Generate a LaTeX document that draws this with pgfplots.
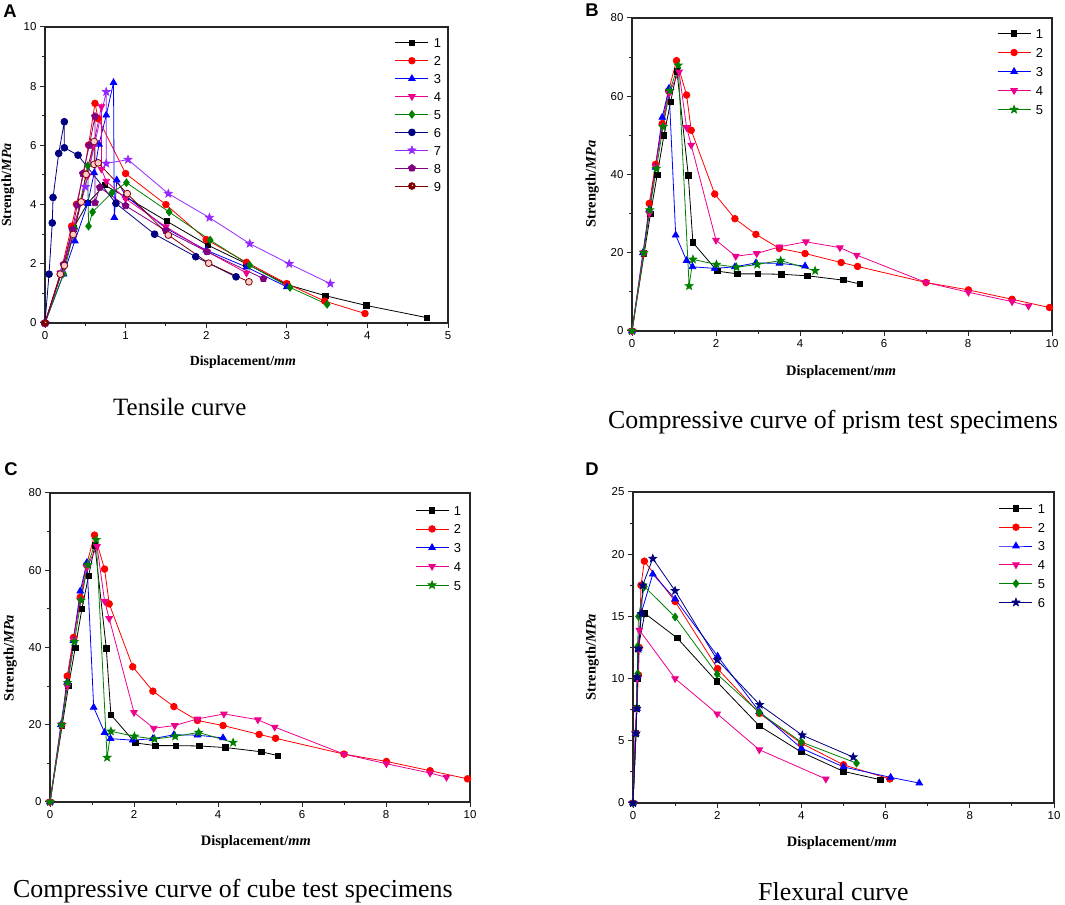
\documentclass[border=0pt]{standalone}
\usepackage{fontspec}
\setmainfont{Liberation Serif}
\setsansfont{Liberation Sans}
\usepackage{pgfplots}
\usepackage{pgfplotstable}
\pgfplotsset{compat=1.18}
\usetikzlibrary{plotmarks}

\definecolor{cgreen}{RGB}{0,128,0}
\definecolor{cnavy}{RGB}{0,0,128}
\definecolor{cviolet}{RGB}{150,40,255}
\definecolor{cpurple}{RGB}{128,0,128}
\definecolor{cdarkred}{RGB}{128,0,0}

\pgfdeclareplotmark{fstar}{%
 \pgfpathmoveto{\pgfpointpolar{90}{1.3*\pgfplotmarksize}}%
 \pgfpathlineto{\pgfpointpolar{126}{0.55*\pgfplotmarksize}}%
 \pgfpathlineto{\pgfpointpolar{162}{1.3*\pgfplotmarksize}}%
 \pgfpathlineto{\pgfpointpolar{198}{0.55*\pgfplotmarksize}}%
 \pgfpathlineto{\pgfpointpolar{234}{1.3*\pgfplotmarksize}}%
 \pgfpathlineto{\pgfpointpolar{270}{0.55*\pgfplotmarksize}}%
 \pgfpathlineto{\pgfpointpolar{306}{1.3*\pgfplotmarksize}}%
 \pgfpathlineto{\pgfpointpolar{342}{0.55*\pgfplotmarksize}}%
 \pgfpathlineto{\pgfpointpolar{18}{1.3*\pgfplotmarksize}}%
 \pgfpathlineto{\pgfpointpolar{54}{0.55*\pgfplotmarksize}}%
 \pgfpathclose\pgfusepathqfillstroke}

\pgfdeclareplotmark{ball}{%
 \pgfpathcircle{\pgfpointorigin}{\pgfplotmarksize}%
 \pgfusepathqfillstroke
 \pgfsetfillcolor{white!80!red}%
 \pgfpathcircle{\pgfpoint{0.2*\pgfplotmarksize}{0.2*\pgfplotmarksize}}{0.22*\pgfplotmarksize}%
 \pgfusepathqfill}

\pgfplotsset{
 panel/.style={
  scale only axis, clip=false, anchor=south west,
  axis line style={line width=1.1bp, black!85},
  tick align=outside, tick pos=left,
  major tick length=5bp, minor tick length=3bp,
  every tick/.style={line width=1bp, black!85},
  minor x tick num=1, minor y tick num=1,
  tick label style={font=\sffamily\fontsize{11.5}{12}\selectfont},
  /pgf/number format/assume math mode=true,
  label style={font=\bfseries\fontsize{14.5}{16}\selectfont},
  xlabel={Displacement/\textit{mm}},
  ylabel={Strength/\textit{MPa}},
  every axis plot/.append style={line width=0.8bp},
  legend image code/.code={\draw[mark repeat=2,mark phase=2,##1] plot coordinates {(0bp,0bp)(16.5bp,0bp)(33bp,0bp)};},
  legend style={draw=none, fill=none, inner sep=0pt, column sep=5bp,
    font=\sffamily\fontsize{13}{13}\selectfont,
    nodes={inner sep=0pt, text height=10bp, text depth=0bp},
    cells={anchor=west}, anchor=north west},
 },
 s1/.style={black, mark=square*, mark size=2.7bp},
 s2/.style={red, mark=*, mark size=3.3bp},
 s3/.style={blue, mark=triangle*, mark size=3.8bp},
 s4/.style={magenta, mark=triangle*, mark options={rotate=180}, mark size=3.8bp},
 s5/.style={cgreen, mark=diamond*, mark size=3.8bp},
 s5s/.style={cgreen, mark=fstar, mark size=3.1bp},
 s6/.style={cnavy, mark=*, mark size=3.4bp},
 s6s/.style={cnavy, mark=fstar, mark size=3.1bp},
 s7/.style={cviolet, mark=fstar, mark size=3.1bp},
 s8/.style={cpurple, mark=pentagon*, mark size=3.6bp},
 s9/.style={cdarkred, mark=ball, mark size=3.4bp},
}

% ---------- Panel A: tensile ----------
\pgfplotstableread{
x y
0 0
0.2 1.65
0.35 3.2
0.53 4.05
0.74 4.66
1.0 4.26
1.51 3.44
2.02 2.63
2.5 2.0
3.0 1.3
3.48 0.92
3.99 0.59
4.74 0.18
}\Aone
\pgfplotstableread{
x y
0 0
0.19 1.65
0.33 3.27
0.39 4.01
0.48 5.05
0.54 6.01
0.62 7.42
0.66 6.9
1.0 5.05
1.5 4.0
2.0 2.82
2.5 2.05
3.0 1.33
3.47 0.74
3.97 0.32
}\Atwo
\pgfplotstableread{
x y
0 0
0.23 1.65
0.37 2.77
0.53 4.04
0.61 5.07
0.67 6.04
0.76 7.02
0.85 8.12
0.86 3.56
0.89 4.83
1.0 4.3
1.5 3.2
2.0 2.46
2.5 1.89
3.0 1.22
}\Athree
\pgfplotstableread{
x y
0 0
0.2 1.7
0.34 3.16
0.45 4.1
0.53 4.98
0.6 6.0
0.70 7.31
0.70 5.2
0.76 4.79
1.0 4.2
1.5 3.25
2.0 2.43
2.5 1.69
}\Afour
\pgfplotstableread{
x y
0 0
0.23 1.67
0.37 3.19
0.53 5.31
0.54 3.27
0.59 3.75
0.83 4.4
1.01 4.74
1.54 3.75
2.05 2.8
2.54 1.95
3.04 1.2
3.5 0.63
}\Afive
\pgfplotstableread{
x y
0 0
0.05 1.65
0.09 3.38
0.1 4.24
0.17 5.73
0.24 6.8
0.24 5.92
0.41 5.67
0.88 4.04
1.36 3.0
1.87 2.24
2.37 1.56
}\Asix
\pgfplotstableread{
x y
0 0
0.2 1.7
0.35 3.1
0.5 4.6
0.62 6.1
0.76 7.81
0.76 5.39
1.03 5.52
1.53 4.37
2.04 3.56
2.54 2.68
3.03 2.0
3.54 1.33
}\Aseven
\pgfplotstableread{
x y
0 0
0.23 1.98
0.34 3.16
0.40 3.98
0.47 5.05
0.55 6.0
0.62 6.98
0.62 4.06
0.68 4.58
1.0 3.96
1.5 3.12
2.01 2.41
2.71 1.5
}\Aeight
\pgfplotstableread{
x y
0 0
0.19 1.65
0.24 1.94
0.35 2.99
0.45 4.09
0.51 5.02
0.61 6.13
0.61 5.36
0.66 5.41
1.02 4.37
1.53 2.97
2.03 2.02
2.53 1.39
}\Anine

% ---------- Panels B and C: compressive ----------
\pgfplotstableread{
x y
0 0
0.29 19.8
0.44 30.0
0.60 39.9
0.76 50.0
0.92 58.6
1.07 66.4
1.34 39.8
1.45 22.6
2.03 15.3
2.51 14.6
3.0 14.6
3.56 14.5
4.18 14.1
5.03 13.0
5.43 12.0
}\Bone
\pgfplotstableread{
x y
0 0
0.28 19.9
0.41 32.6
0.56 42.6
0.72 53.0
0.87 61.4
1.06 69.1
1.30 60.3
1.41 51.3
1.97 35.0
2.45 28.7
2.95 24.7
3.51 21.1
4.12 19.8
4.98 17.5
5.37 16.5
7.0 12.4
8.01 10.5
9.05 8.1
9.94 6.0
}\Btwo
\pgfplotstableread{
x y
0 0
0.26 20.0
0.41 31.0
0.56 41.8
0.72 54.6
0.88 62.0
1.04 24.5
1.30 18.0
1.44 16.4
1.97 16.0
2.45 16.4
2.95 17.4
3.51 17.3
4.12 16.6
}\Bthree
\pgfplotstableread{
x y
0 0
0.27 20.0
0.41 30.0
0.56 42.0
0.72 52.2
0.88 60.7
1.12 66.2
1.30 52.0
1.41 47.5
2.0 23.2
2.47 19.1
2.97 19.8
3.51 21.5
4.14 22.8
4.95 21.3
5.35 19.4
7.0 12.4
8.01 9.9
9.05 7.5
9.44 6.4
}\Bfour
\pgfplotstableread{
x y
0 0
0.28 20.0
0.42 30.9
0.58 41.5
0.74 52.2
0.90 61.4
1.10 67.9
1.36 11.5
1.45 18.3
2.01 17.0
2.49 16.3
2.98 17.0
3.54 18.0
4.36 15.4
}\Bfive

% ---------- Panel D: flexural ----------
\pgfplotstableread{
x y
0 0
0.07 5.6
0.09 7.6
0.1 10.0
0.12 12.4
0.28 15.24
1.05 13.26
1.99 9.76
3.0 6.2
4.0 4.09
5.0 2.54
5.88 1.87
}\Done
\pgfplotstableread{
x y
0 0
0.07 5.6
0.09 7.6
0.13 10.3
0.15 12.5
0.19 17.5
0.27 19.44
1.0 16.2
2.01 10.8
3.0 7.2
4.0 4.8
5.0 3.07
6.1 1.93
}\Dtwo
\pgfplotstableread{
x y
0 0
0.06 5.6
0.09 7.6
0.11 10.2
0.13 12.4
0.19 15.2
0.47 18.4
1.0 16.4
2.01 11.8
3.0 7.35
4.0 4.4
5.0 2.9
6.12 2.06
6.8 1.6
}\Dthree
\pgfplotstableread{
x y
0 0
0.05 5.6
0.08 7.6
0.1 10.0
0.12 12.4
0.15 13.9
1.0 10.0
2.0 7.17
3.0 4.28
4.58 1.93
}\Dfour
\pgfplotstableread{
x y
0 0
0.07 5.6
0.09 7.67
0.11 10.4
0.11 12.6
0.13 15.0
0.27 17.4
1.0 14.95
2.0 10.35
3.0 7.27
4.0 4.9
5.31 3.2
}\Dfive
\pgfplotstableread{
x y
0 0
0.07 5.6
0.09 7.6
0.1 10.1
0.13 12.4
0.2 15.2
0.23 17.5
0.47 19.65
1.0 17.06
2.0 11.5
3.01 7.9
4.02 5.45
5.23 3.69
}\Dsix

\begin{document}
\begin{tikzpicture}
\path[use as bounding box] (0,0) rectangle (1065bp,905bp);

% ===== A =====
\begin{axis}[panel, at={(45bp,582bp)}, width=403bp, height=296bp,
  xmin=0, xmax=5, ymin=0, ymax=10,
  xtick={0,1,...,5}, ytick={0,2,...,10},
  label style={font=\bfseries\fontsize{14}{16}\selectfont},
  x label style={at={(axis description cs:0.491,-0.132)}, anchor=center},
  y label style={at={(axis description cs:-0.092,0.466)}, anchor=center},
  legend style={at={(0.868,0.964)}, row sep=7.9bp}]
\addplot[s1] table {\Aone};   \addlegendentry{1}
\addplot[s2] table {\Atwo};   \addlegendentry{2}
\addplot[s3] table {\Athree}; \addlegendentry{3}
\addplot[s4] table {\Afour};  \addlegendentry{4}
\addplot[s5] table {\Afive};  \addlegendentry{5}
\addplot[s6] table {\Asix};   \addlegendentry{6}
\addplot[s7] table {\Aseven}; \addlegendentry{7}
\addplot[s8] table {\Aeight}; \addlegendentry{8}
\addplot[s9] table {\Anine};  \addlegendentry{9}
\end{axis}

% ===== B =====
\begin{axis}[panel, at={(632bp,574bp)}, width=420bp, height=313bp,
  xmin=0, xmax=10, ymin=0, ymax=80,
  xtick={0,2,...,10}, ytick={0,20,...,80},
  x label style={at={(axis description cs:0.498,-0.131)}, anchor=center},
  y label style={at={(axis description cs:-0.095,0.47)}, anchor=center},
  legend style={at={(0.869,0.967)}, row sep=9bp}]
\addplot[s1] table {\Bone};   \addlegendentry{1}
\addplot[s2] table {\Btwo};   \addlegendentry{2}
\addplot[s3] table {\Bthree}; \addlegendentry{3}
\addplot[s4] table {\Bfour};  \addlegendentry{4}
\addplot[s5s] table {\Bfive}; \addlegendentry{5}
\end{axis}

% ===== C =====
\begin{axis}[panel, at={(50bp,103bp)}, width=420bp, height=309bp,
  xmin=0, xmax=10, ymin=0, ymax=80,
  xtick={0,2,...,10}, ytick={0,20,...,80},
  x label style={at={(axis description cs:0.49,-0.129)}, anchor=center},
  y label style={at={(axis description cs:-0.095,0.466)}, anchor=center},
  legend style={at={(0.869,0.961)}, row sep=8.7bp}]
\addplot[s1] table {\Bone};   \addlegendentry{1}
\addplot[s2] table {\Btwo};   \addlegendentry{2}
\addplot[s3] table {\Bthree}; \addlegendentry{3}
\addplot[s4] table {\Bfour};  \addlegendentry{4}
\addplot[s5s] table {\Bfive}; \addlegendentry{5}
\end{axis}

% ===== D =====
\begin{axis}[panel, at={(633bp,102bp)}, width=421bp, height=311bp,
  xmin=0, xmax=10, ymin=0, ymax=25,
  xtick={0,2,...,10}, ytick={0,5,...,25},
  x label style={at={(axis description cs:0.496,-0.129)}, anchor=center},
  y label style={at={(axis description cs:-0.097,0.469)}, anchor=center},
  legend style={at={(0.869,0.964)}, row sep=8.8bp}]
\addplot[s1] table {\Done};   \addlegendentry{1}
\addplot[s2] table {\Dtwo};   \addlegendentry{2}
\addplot[s3] table {\Dthree}; \addlegendentry{3}
\addplot[s4] table {\Dfour};  \addlegendentry{4}
\addplot[s5] table {\Dfive};  \addlegendentry{5}
\addplot[s6s] table {\Dsix};  \addlegendentry{6}
\end{axis}

% panel letters
\node[font=\sffamily\bfseries\fontsize{18.5}{20}\selectfont, anchor=center] at (10bp,894bp) {A};
\node[font=\sffamily\bfseries\fontsize{18.5}{20}\selectfont, anchor=center] at (592bp,895bp) {B};
\node[font=\sffamily\bfseries\fontsize{18.5}{20}\selectfont, anchor=center] at (11bp,436bp) {C};
\node[font=\sffamily\bfseries\fontsize{18.5}{20}\selectfont, anchor=center] at (592bp,436bp) {D};

% captions
\node[font=\fontsize{25}{28}\selectfont, anchor=base west, inner sep=0pt] at (113bp,489bp) {Tensile curve};
\node[font=\fontsize{26}{28}\selectfont, anchor=base west, inner sep=0pt] at (608bp,476.7bp) {Compressive curve of prism test specimens};
\node[font=\fontsize{26}{28}\selectfont, anchor=base west, inner sep=0pt] at (13bp,7.7bp) {Compressive curve of cube test specimens};
\node[font=\fontsize{26}{28}\selectfont, anchor=base west, inner sep=0pt] at (758bp,5bp) {Flexural curve};
\end{tikzpicture}
\end{document}
